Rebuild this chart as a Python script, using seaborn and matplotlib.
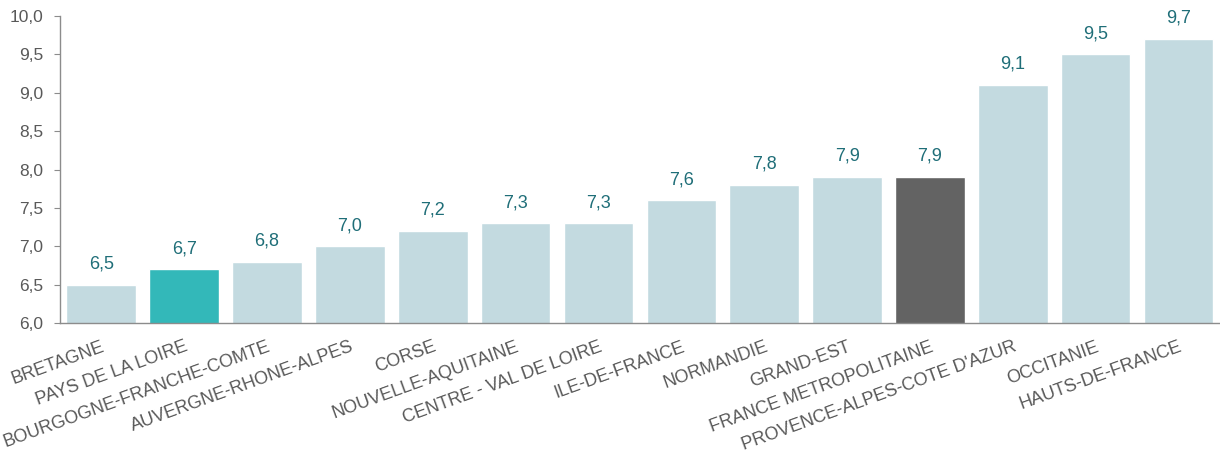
import numpy as np
import pandas as pd
import matplotlib
matplotlib.use("Agg")
import matplotlib.pyplot as plt
import seaborn as sns

# données
regions = ["BRETAGNE", "PAYS DE LA LOIRE", "BOURGOGNE-FRANCHE-COMTE",
           "AUVERGNE-RHONE-ALPES", "CORSE", "NOUVELLE-AQUITAINE",
           "CENTRE - VAL DE LOIRE", "ILE-DE-FRANCE", "NORMANDIE", "GRAND-EST",
           "FRANCE METROPOLITAINE", "PROVENCE-ALPES-COTE D'AZUR", "OCCITANIE",
           "HAUTS-DE-FRANCE"]
valeurs = [6.5, 6.7, 6.8, 7.0, 7.2, 7.3, 7.3, 7.6, 7.8, 7.9, 7.9, 9.1, 9.5, 9.7]
couleurs = ["#C3DAE0", "#33B8B9", "#C3DAE0", "#C3DAE0", "#C3DAE0", "#C3DAE0",
            "#C3DAE0", "#C3DAE0", "#C3DAE0", "#C3DAE0", "#636363", "#C3DAE0",
            "#C3DAE0", "#C3DAE0"]

sns.set_style("white")
plt.rcParams["font.family"] = ["Liberation Sans", "DejaVu Sans"]

df = pd.DataFrame({"region": regions, "valeur": valeurs})

fig = plt.figure(figsize=(12.2, 4.59), dpi=100)
ax = fig.add_axes([0.049, 0.296, 0.951, 0.669])

sns.barplot(data=df, x="region", y="valeur", hue="region", palette=couleurs,
            width=0.84, legend=False, ax=ax, saturation=1)

for i, v in enumerate(valeurs):
    ax.text(i, v + 0.16, f"{v:.1f}".replace(".", ","), ha="center", va="bottom",
            fontsize=13, color="#1F6E78")

ax.set_ylim(6.0, 10.0)
ax.set_xlim(-0.5, len(regions) - 0.5)
yt = np.arange(6.0, 10.01, 0.5)
ax.set_yticks(yt)
ax.set_yticklabels([f"{t:.1f}".replace(".", ",") for t in yt])

ax.set_xticks(np.arange(len(regions)))
ax.set_xticklabels(regions, rotation=20, ha="right", rotation_mode="anchor")
ax.tick_params(axis="x", which="major", length=0, pad=11, labelsize=13,
               labelcolor="#595959")
ax.set_xticks(np.arange(-0.5, len(regions), 1.0), minor=True)
ax.tick_params(axis="x", which="minor", length=5, color="#8C8C8C", width=1)
ax.tick_params(axis="y", length=4, color="#8C8C8C", labelsize=12.5,
               labelcolor="#595959", left=True, direction="out", pad=8)

ax.set_xlabel("")
ax.set_ylabel("")
sns.despine(ax=ax)
for s in ["left", "bottom"]:
    ax.spines[s].set_color("#8C8C8C")
    ax.spines[s].set_linewidth(1)

fig.savefig("out.png", dpi=100)
